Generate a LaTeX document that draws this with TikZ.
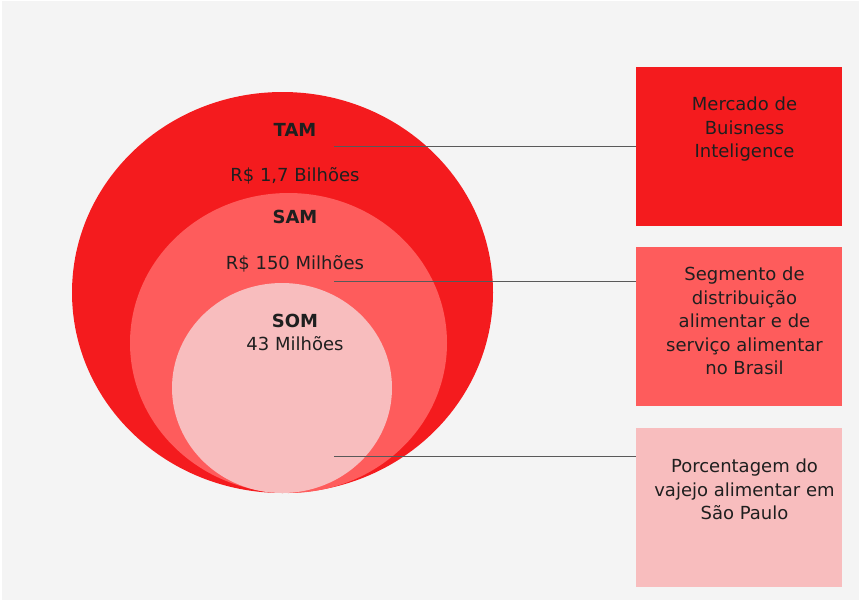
\documentclass[tikz,border=0pt]{standalone}
\usepackage{fontspec}
\setmainfont{DejaVu Sans}
\usepackage{xcolor}
\usepackage{tikz}
\usetikzlibrary{shapes.geometric, positioning, calc}

\definecolor{tamred}{HTML}{F41B1E}
\definecolor{samred}{HTML}{FE5C5C}
\definecolor{sompink}{HTML}{F8BDBE}
\definecolor{bggray}{HTML}{F4F4F4}

\begin{document}
\begin{tikzpicture}[
  x=1pt, y=-1pt,
  font=\fontsize{18}{23.5}\selectfont,
  align=center,
  ring/.style={ellipse, inner sep=0pt, draw=none},
  mbox/.style={rectangle, inner sep=0pt, draw=none,
               minimum width=206pt, minimum height=159pt},
  txt/.style={inner sep=0pt, text=black!88},
  hd/.style={txt, font=\fontsize{18}{23.5}\selectfont\bfseries},
  lnk/.style={draw=black!65, line width=1pt},
]
\useasboundingbox (0,0) rectangle (859,600);
\fill[white] (0,0) rectangle (859,600);
\fill[bggray] (2,1) rectangle (859,600);

% nested markets
\node[ring, fill=tamred, minimum width=421pt, minimum height=401pt]  (tam) at (282.5,292.5) {};
\node[ring, fill=samred, minimum width=317pt, minimum height=300pt]  (sam) at (288.5,343) {};
\node[ring, fill=sompink, minimum width=220pt, minimum height=210pt] (som) at (282,388) {};

\node[hd]  (tamlbl) at (295,130)   {TAM};
\node[txt] (tamval) at (295,175.5) {R\$ 1,7 Bilhões};
\node[hd]  (samlbl) at (295,216.5) {SAM};
\node[txt] (samval) at (295,264)   {R\$ 150 Milhões};
\node[hd]  (somlbl) at (295,320.5) {SOM};
\node[txt] (somval) at (295,344)   {43 Milhões};

% descriptions
\node[mbox, fill=tamred]  (tambox) at (739,146.5) {};
\node[mbox, fill=samred]  (sambox) at (739,326.5) {};
\node[mbox, fill=sompink] (sombox) at (739,507.5) {};

\node[txt, anchor=north] (tamtxt) at (744.5,97) {Mercado de\\Buisness\\Inteligence};
\node[txt, anchor=north] (samtxt) at (744.5,267) {Segmento de\\distribuição\\alimentar e de\\serviço alimentar\\no Brasil};
\node[txt, anchor=north] (somtxt) at (744.5,459) {Porcentagem do\\vajejo alimentar em\\São Paulo};

\coordinate (tampt) at (334,146);
\coordinate (sampt) at (334,281);
\coordinate (sompt) at (334,456);

\draw[lnk] (tampt) -- (tampt -| tambox.west);
\draw[lnk] (sampt) -- (sampt -| sambox.west);
\draw[lnk] (sompt) -- (sompt -| sombox.west);

\end{tikzpicture}
\end{document}
